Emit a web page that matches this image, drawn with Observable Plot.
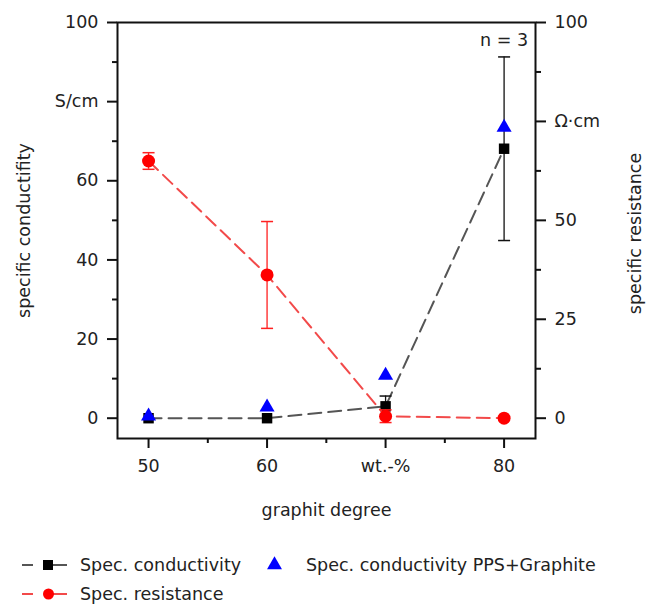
<!DOCTYPE html>
<html>
<head>
<meta charset="utf-8">
<script src="https://cdn.jsdelivr.net/npm/d3@7"></script>
<script src="https://cdn.jsdelivr.net/npm/@observablehq/plot@0.6"></script>
<style>
  body { margin: 0; background: #fff; font-family: "DejaVu Sans", sans-serif; }
  #chart svg { display: block; }
  #legend { display: block; }
</style>
</head>
<body>
<div id="chart"></div>
<div id="legendWrap"></div>
<script>
// ---- data ----
const degrees = [50, 60, 70, 80];
const conductivity = [0, 0, 3.0, 68.1];
const conductivityErr = [0, 0, 2.6, 23.2];
const ppsGraphite = [0.5, 2.8, 10.8, 73.5];
const resistance = [65.0, 36.2, 0.5, 0];
const resistanceErr = [2.1, 13.5, 1.6, 0];

const xTicks = [50, 60, 70, 80];
const xTickLabels = ["50", "60", "wt.-%", "80"];
const xMinorTicks = [55, 65, 75];
const leftTicks = [0, 20, 40, 60, 80, 100];
const leftTickLabels = ["0", "20", "40", "60", "S/cm", "100"];
const leftMinorTicks = [10, 30, 50, 70, 90];
const rightTicks = [0, 25, 50, 75, 100];
const rightTickLabels = ["0", "25", "50", "Ω·cm", "100"];
const rightMinorTicks = [12.5, 37.5, 62.5, 87.5];

const annotations = [{x: 80, y: 95.4, text: "n = 3"}];
const xTitle = "graphit degree";
const leftTitle = "specific conductifity";
const rightTitle = "specific resistance";
const legendLabels = ["Spec. conductivity", "Spec. conductivity PPS+Graphite", "Spec. resistance"];

// ---- table ----
const table = degrees.map((x, i) => ({
  x, c: conductivity[i], ce: conductivityErr[i], p: ppsGraphite[i], r: resistance[i], re: resistanceErr[i]
}));
const cErr = table.filter(d => d.ce > 0);
const rErr = table.filter(d => d.re > 0);

const cap = { draw(ctx, size) { ctx.moveTo(-6, 0); ctx.lineTo(6, 0); } };

const W = 652, H = 540;
const FS = 17.5;
const FONT = "'DejaVu Sans', sans-serif";
const textColor = "#222";
const grayLine = "#555";
const redLine = "#f24a4a";

const chart = Plot.plot({
  width: W, height: H,
  marginLeft: 117, marginRight: 117, marginTop: 22, marginBottom: 102,
  style: { fontFamily: FONT, fontSize: FS + "px", color: textColor, background: "#fff" },
  x: { domain: [47.38, 82.65], label: null },
  y: { domain: [-5.13, 100], label: null },
  marks: [
    // axes
    Plot.axisX({ ticks: xTicks, tickSize: 10, tickPadding: 11, strokeWidth: 2, stroke: "#111",
      tickFormat: d => xTickLabels[xTicks.indexOf(d)], fontSize: FS, fill: textColor, label: null }),
    Plot.axisX({ ticks: xMinorTicks, tickSize: 5, strokeWidth: 2, stroke: "#111", tickFormat: () => "", label: null }),
    Plot.axisY({ anchor: "left", ticks: leftTicks, tickSize: 10, tickPadding: 9, strokeWidth: 2, stroke: "#111",
      tickFormat: d => leftTickLabels[leftTicks.indexOf(d)], fontSize: FS, fill: textColor, label: null }),
    Plot.axisY({ anchor: "left", ticks: leftMinorTicks, tickSize: 5, strokeWidth: 2, stroke: "#111", tickFormat: () => "", label: null }),
    Plot.axisY({ anchor: "right", ticks: rightTicks, tickSize: 10, tickPadding: 9, strokeWidth: 2, stroke: "#111",
      tickFormat: d => rightTickLabels[rightTicks.indexOf(d)], fontSize: FS, fill: textColor, label: null }),
    Plot.axisY({ anchor: "right", ticks: rightMinorTicks, tickSize: 5, strokeWidth: 2, stroke: "#111", tickFormat: () => "", label: null }),
    Plot.frame({ stroke: "#111", strokeWidth: 2 }),

    // conductivity
    Plot.line(table, { x: "x", y: "c", stroke: grayLine, strokeWidth: 2, strokeDasharray: "13,7" }),
    Plot.ruleX(cErr, { x: "x", y1: d => d.c - d.ce, y2: d => d.c + d.ce, stroke: "#111", strokeWidth: 1.3 }),
    Plot.dot(cErr, { x: "x", y: d => d.c - d.ce, symbol: cap, stroke: "#111", strokeWidth: 1.5, fill: "none" }),
    Plot.dot(cErr, { x: "x", y: d => d.c + d.ce, symbol: cap, stroke: "#111", strokeWidth: 1.5, fill: "none" }),
    Plot.dot(table, { x: "x", y: "c", symbol: "square", r: 5.9, fill: "#000", stroke: "none" }),

    // PPS + graphite
    Plot.dot(table, { x: "x", y: "p", symbol: "triangle", r: 5.6, fill: "#0000ff", stroke: "none" }),

    // resistance
    Plot.line(table, { x: "x", y: "r", stroke: redLine, strokeWidth: 2, strokeDasharray: "13,7" }),
    Plot.ruleX(rErr, { x: "x", y1: d => d.r - d.re, y2: d => d.r + d.re, stroke: "#ff2020", strokeWidth: 1.3 }),
    Plot.dot(rErr, { x: "x", y: d => d.r - d.re, symbol: cap, stroke: "#ff2020", strokeWidth: 1.5, fill: "none" }),
    Plot.dot(rErr, { x: "x", y: d => d.r + d.re, symbol: cap, stroke: "#ff2020", strokeWidth: 1.5, fill: "none" }),
    Plot.dot(table, { x: "x", y: "r", r: 6.5, fill: "#ff0000", stroke: "none" }),

    // annotation + titles
    Plot.text(annotations, { x: "x", y: "y", text: "text", fontSize: FS, fill: textColor }),
    Plot.text([xTitle], { frameAnchor: "bottom", dy: 72, fontSize: FS, fill: textColor, lineAnchor: "middle", textAnchor: "middle" }),
    Plot.text([leftTitle], { frameAnchor: "left", dx: -93, rotate: -90, fontSize: FS, fill: textColor, lineAnchor: "middle", textAnchor: "middle" }),
    Plot.text([rightTitle], { frameAnchor: "right", dx: 100, dy: 3, rotate: -90, fontSize: FS, fill: textColor, lineAnchor: "middle", textAnchor: "middle" })
  ]
});
document.getElementById("chart").appendChild(chart);

// ---- legend ----
const lg = d3.select("#legendWrap").append("svg")
  .attr("id", "legend").attr("width", W).attr("height", 64)
  .style("font-family", FONT).style("font-size", FS + "px");
const row1 = 25, row2 = 54;
// conductivity
lg.append("line").attr("x1", 22).attr("x2", 33).attr("y1", row1).attr("y2", row1).attr("stroke", grayLine).attr("stroke-width", 2);
lg.append("line").attr("x1", 53).attr("x2", 67).attr("y1", row1).attr("y2", row1).attr("stroke", grayLine).attr("stroke-width", 2);
lg.append("rect").attr("x", 43).attr("y", row1 - 5).attr("width", 10).attr("height", 10).attr("fill", "#000");
lg.append("text").attr("x", 80).attr("y", row1).attr("dy", "0.35em").attr("fill", textColor).text(legendLabels[0]);
// PPS + graphite
lg.append("path").attr("d", d3.symbol(d3.symbolTriangle, 97)()).attr("transform", `translate(274.5,${row1})`).attr("fill", "#0000ff");
lg.append("text").attr("x", 306).attr("y", row1).attr("dy", "0.35em").attr("fill", textColor).text(legendLabels[1]);
// resistance
lg.append("line").attr("x1", 22).attr("x2", 33).attr("y1", row2).attr("y2", row2).attr("stroke", redLine).attr("stroke-width", 2);
lg.append("line").attr("x1", 53).attr("x2", 67).attr("y1", row2).attr("y2", row2).attr("stroke", redLine).attr("stroke-width", 2);
lg.append("circle").attr("cx", 48.5).attr("cy", row2).attr("r", 5.5).attr("fill", "#ff0000");
lg.append("text").attr("x", 80).attr("y", row2).attr("dy", "0.35em").attr("fill", textColor).text(legendLabels[2]);
</script>
</body>
</html>
